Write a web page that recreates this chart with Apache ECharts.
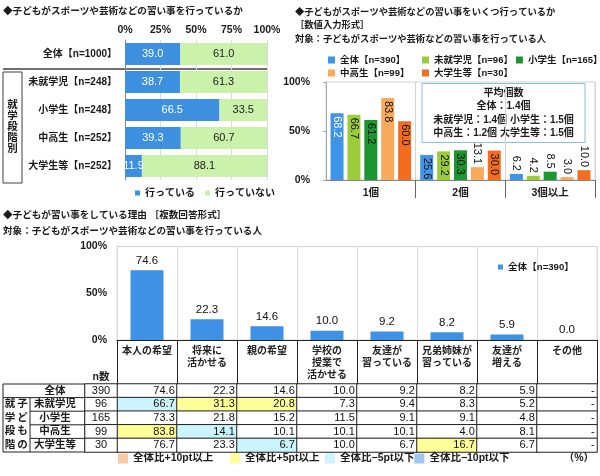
<!DOCTYPE html>
<html><head><meta charset="utf-8">
<script src="https://cdn.jsdelivr.net/npm/echarts@6/dist/echarts.min.js"></script>
<style>html,body{margin:0;padding:0;background:#fff}#c{width:600px;height:476px}</style>
</head><body><div id="c"></div>
<script>
// ---------- data ----------
// chart 1
const c1Categories = ['全体【n=1000】', '未就学児【n=248】', '小学生【n=248】', '中高生【n=252】', '大学生等【n=252】'];
const c1Names = ['行っている', '行っていない'];
const c1Doing = [39.0, 38.7, 66.5, 39.3, 11.9];
const c1NotDoing = [61.0, 61.3, 33.5, 60.7, 88.1];
// chart 2
const c2Categories = ['1個', '2個', '3個以上'];
const c2Names = ['全体【n=390】', '未就学児【n=96】', '小学生【n=165】', '中高生【n=99】', '大学生等【n=30】'];
const c2All = [68.2, 25.6, 6.2];
const c2Preschool = [66.7, 29.2, 4.2];
const c2Elementary = [61.2, 30.3, 8.5];
const c2MidHigh = [83.8, 13.1, 3.0];
const c2College = [60.0, 30.0, 10.0];
const c2AvgLines = ['平均個数', '全体：1.4個', '未就学児：1.4個 小学生：1.5個', '中高生：1.2個 大学生等：1.5個'];
// chart 3
const c3Reasons = ['本人の希望', '将来に\n活かせる', '親の希望', '学校の\n授業で\n活かせる', '友達が\n習っている', '兄弟姉妹が\n習っている', '友達が\n増える', 'その他'];
const c3Name = '全体【n=390】';
const c3All = [74.6, 22.3, 14.6, 10.0, 9.2, 8.2, 5.9, 0.0];
// table
const tRows = ['全体', '未就学児', '小学生', '中高生', '大学生等'];
const tNHeader = ['n数'];
const tN = [390, 96, 165, 99, 30];
const tAll = [74.6, 22.3, 14.6, 10.0, 9.2, 8.2, 5.9, 0];
const tPreschool = [66.7, 31.3, 20.8, 7.3, 9.4, 8.3, 5.2, 0];
const tElementary = [73.3, 21.8, 15.2, 11.5, 9.1, 9.1, 4.8, 0];
const tMidHigh = [83.8, 14.1, 10.1, 10.1, 10.1, 4.0, 8.1, 0];
const tCollege = [76.7, 23.3, 6.7, 10.0, 6.7, 16.7, 6.7, 0];
const diffLegend = ['全体比+10pt以上', '全体比+5pt以上', '全体比−5pt以下', '全体比−10pt以下'];

// ---------- styles ----------
const FONT = '"Liberation Sans", "Noto Sans CJK JP", sans-serif';
const TXT = '#1a1a1a';
const c1Colors = ['#3d8fe0', '#cbf2ab'];
const c2Colors = ['#3e95e8', '#9dcc3a', '#1c9630', '#f8a95c', '#f26d20'];
const c3Color = '#3e91e4';
const diffColors = ['#f8cba4', '#ffff99', '#ccf4fc', '#9dc6f2'];

const tMatrix = [tAll, tPreschool, tElementary, tMidHigh, tCollege];
function diffColor(r, c) {
  if (r === 0) return '#ffffff';
  const d = tMatrix[r][c] - tAll[c];
  if (d >= 10) return diffColors[0];
  if (d >= 5) return diffColors[1];
  if (d <= -10) return diffColors[3];
  if (d <= -5) return diffColors[2];
  return '#ffffff';
}
const tableData = [];
tMatrix.forEach((row, r) => row.forEach((v, c) => {
  tableData.push({ value: [c, r, v], itemStyle: { color: diffColor(r, c) } });
}));
const nData = tN.map((n, r) => [0, r, n]);

const c2Values = [c2All, c2Preschool, c2Elementary, c2MidHigh, c2College];
function c2Data(values, s) {
  return values.map((v, i) => ({
    value: v,
    label: v >= 20
      ? { position: 'insideTop', align: 'left', verticalAlign: 'middle', color: (s === 0 && i === 0) ? '#fff' : '#111' }
      : { position: 'top', align: 'right', verticalAlign: 'middle', color: '#111' }
  }));
}

const titleStyle = { fontFamily: FONT, fontWeight: 'bold', fontSize: 9.6, color: TXT, lineHeight: 12 };
function mkTitle(text, left, top, size) {
  return { text, left, top, padding: 0, textStyle: Object.assign({}, titleStyle, size ? { fontSize: size } : {}) };
}
function legText(size, lh, width) {
  const s = { fontFamily: FONT, fontSize: size, fontWeight: 'bold', color: TXT, lineHeight: lh };
  if (width) s.width = width;
  return s;
}

const rowTop = 384, rowH = 13.6;
const c2LegWidths = [79, 68, null, 79, null];
const diffLegWidths = [97, 80, 72, null];

const option = {
  animation: false,
  textStyle: { fontFamily: FONT },
  title: [
    mkTitle('◆子どもがスポーツや芸術などの習い事を行っているか', 3, 5),
    mkTitle('◆子どもがスポーツや芸術などの習い事をいくつ行っているか', 295, 6, 9.3),
    mkTitle('［数値入力形式］', 295, 19, 9.3),
    mkTitle('対象：子どもがスポーツや芸術などの習い事を行っている人', 295, 33, 9.3),
    mkTitle('◆子どもが習い事をしている理由 ［複数回答形式］', 3, 209),
    mkTitle('対象：子どもがスポーツや芸術などの習い事を行っている人', 3, 225)
  ],
  legend: [
    { data: c1Names, left: 135, top: 188, padding: 0, itemWidth: 5, itemHeight: 5, itemGap: 10, icon: 'rect',
      textStyle: legText(10, 10) },
    { data: c2Names.map((n, i) => ({ name: n, textStyle: legText(9.5, 10, c2LegWidths[i]) })),
      left: 328, top: 55, width: 285, padding: 0, itemWidth: 7, itemHeight: 7, itemGap: 3, icon: 'rect',
      textStyle: legText(9.5, 10) },
    { data: [c3Name], left: 498, top: 262, padding: 0, itemWidth: 5, itemHeight: 5, icon: 'rect',
      textStyle: legText(9.6, 10) },
    { data: diffLegend.map((n, i) => ({ name: n, textStyle: legText(10.5, 11, diffLegWidths[i]) })),
      left: 118, top: 453, padding: 0, itemWidth: 10, itemHeight: 10, itemGap: 0, icon: 'rect',
      textStyle: legText(10.5, 11) }
  ],
  grid: [
    { left: 125, top: 40, width: 142, height: 140 },
    { left: 326, top: 82, width: 269, height: 98, show: true, borderColor: '#d4d4d4', borderWidth: 1 },
    { left: 117, top: 246.5, width: 480, height: 93.5, show: true, borderColor: '#d4d4d4', borderWidth: 1 },
    { left: 117, top: rowTop, width: 480, height: rowH * 5 },
    { left: 85, top: rowTop, width: 32, height: rowH * 5 }
  ],
  xAxis: [
    { gridIndex: 0, type: 'value', min: 0, max: 100, interval: 25, position: 'top',
      axisLabel: { formatter: '{value}%', margin: 5, fontSize: 10.5, fontWeight: 'bold', color: TXT },
      axisLine: { show: false }, axisTick: { show: false },
      splitLine: { show: true, lineStyle: { color: '#dcdcdc' } } },
    { gridIndex: 1, type: 'category', data: c2Categories,
      axisLine: { show: true, lineStyle: { color: '#888' } },
      axisTick: { show: true, length: 18, interval: (i) => i > 0, lineStyle: { color: '#666' } },
      axisLabel: { margin: 8, fontSize: 10.5, fontWeight: 'bold', color: TXT },
      splitLine: { show: true, lineStyle: { color: '#d4d4d4' } } },
    { gridIndex: 2, type: 'category', data: c3Reasons,
      axisLine: { show: true, lineStyle: { color: '#222' } },
      axisTick: { show: true, length: 44, lineStyle: { color: '#222' } },
      axisLabel: { interval: 0, margin: 5, fontSize: 10, fontWeight: 'bold', lineHeight: 12, color: '#222' },
      splitLine: { show: true, lineStyle: { color: '#dcdcdc' } } },
    { gridIndex: 3, type: 'category', data: c3Reasons, show: false },
    { gridIndex: 4, type: 'category', data: tNHeader, position: 'top',
      axisLine: { show: false }, axisTick: { show: false },
      axisLabel: { margin: 2, fontSize: 10.5, fontWeight: 'bold', color: TXT } }
  ],
  yAxis: [
    { gridIndex: 0, type: 'category', data: c1Categories, inverse: true,
      axisLine: { show: true, lineStyle: { color: '#888' } }, axisTick: { show: false },
      axisLabel: { interval: 0, margin: 8, fontSize: 10, fontWeight: 'bold', color: TXT } },
    { gridIndex: 1, type: 'value', min: 0, max: 100, interval: 50,
      axisLabel: { formatter: '{value}%', margin: 16, fontSize: 10.5, fontWeight: 'bold', color: TXT },
      axisLine: { show: true, lineStyle: { color: '#aaa' } },
      axisTick: { show: true, length: 3, lineStyle: { color: '#aaa' } },
      splitLine: { show: false } },
    { gridIndex: 2, type: 'value', min: 0, max: 100, interval: 50,
      axisLabel: { formatter: '{value}%', margin: 10, fontSize: 10.5, fontWeight: 'bold', color: TXT },
      axisLine: { show: false }, axisTick: { show: false }, splitLine: { show: false } },
    { gridIndex: 3, type: 'category', data: tRows, inverse: true, show: false },
    { gridIndex: 4, type: 'category', data: tRows, inverse: true,
      axisLine: { show: false }, axisTick: { show: false },
      axisLabel: { interval: () => true, hideOverlap: false, margin: 30, align: 'center', fontSize: 10.5, lineHeight: 11, fontWeight: 'bold', color: TXT } }
  ],
  series: [
    { name: c1Names[0], type: 'bar', xAxisIndex: 0, yAxisIndex: 0, stack: 'c1', data: c1Doing, barWidth: 22,
      itemStyle: { color: c1Colors[0] },
      label: { show: true, position: 'inside', color: '#fff', fontSize: 11, formatter: p => p.value.toFixed(1) } },
    { name: c1Names[1], type: 'bar', xAxisIndex: 0, yAxisIndex: 0, stack: 'c1', data: c1NotDoing, barWidth: 22,
      itemStyle: { color: c1Colors[1] },
      label: { show: true, position: 'inside', color: '#222', fontSize: 11, formatter: p => p.value.toFixed(1) } },
    ...c2Names.map((n, s) => ({
      name: n, type: 'bar', xAxisIndex: 1, yAxisIndex: 1, data: c2Data(c2Values[s], s),
      barWidth: 13, barGap: '30%', itemStyle: { color: c2Colors[s] },
      label: { show: true, rotate: -90, distance: 3, fontSize: 11, formatter: p => p.value.toFixed(1) }
    })),
    { name: c3Name, type: 'bar', xAxisIndex: 2, yAxisIndex: 2, data: c3All, barWidth: 33,
      itemStyle: { color: c3Color },
      label: { show: true, position: 'top', distance: 4, color: '#111', fontSize: 11.5, formatter: p => p.value.toFixed(1) } },
    { name: 'table', type: 'heatmap', xAxisIndex: 3, yAxisIndex: 3, data: tableData,
      itemStyle: { borderColor: '#222', borderWidth: 1 },
      label: { show: true, position: 'insideRight', distance: 3, color: '#111', fontSize: 11,
        formatter: p => p.value[2] === 0 ? '-' : p.value[2].toFixed(1) },
      emphasis: { disabled: true } },
    { name: 'n', type: 'heatmap', xAxisIndex: 4, yAxisIndex: 4, data: nData,
      itemStyle: { color: '#fff', borderColor: '#222', borderWidth: 1 },
      label: { show: true, position: 'inside', color: '#111', fontSize: 11, formatter: p => String(p.value[2]) },
      emphasis: { disabled: true } },
    ...diffLegend.map((n, i) => ({ name: n, type: 'bar', xAxisIndex: 3, yAxisIndex: 3, data: [], itemStyle: { color: diffColors[i] } }))
  ],
  graphic: [
    { type: 'line', shape: { x1: 3, y1: 69, x2: 268, y2: 69 }, style: { stroke: '#404040', lineWidth: 1.5 } },
    { type: 'rect', shape: { x: 3, y: 72, width: 19, height: 111 }, style: { fill: 'none', stroke: '#404040', lineWidth: 1 } },
    { type: 'text', x: 12.5, y: 100, style: { text: '就\n学\n段\n階\n別', align: 'center', fontFamily: FONT, fontWeight: 'bold', fontSize: 10.5, lineHeight: 11, fill: TXT } },
    { type: 'rect', shape: { x: 422, y: 83.5, width: 163, height: 59 }, style: { fill: '#fff', stroke: '#8cbfe0', lineWidth: 1 } },
    { type: 'text', x: 503.5, y: 86, style: { text: c2AvgLines.join('\n'), align: 'center', fontFamily: FONT, fontWeight: 'bold', fontSize: 10, lineHeight: 13.5, fill: TXT } },
    // table row label borders
    { type: 'rect', shape: { x: 3, y: rowTop, width: 82, height: rowH * 5 }, style: { fill: 'none', stroke: '#222', lineWidth: 1 } },
    { type: 'line', shape: { x1: 3, y1: rowTop + rowH, x2: 85, y2: rowTop + rowH }, style: { stroke: '#222', lineWidth: 1 } },
    { type: 'line', shape: { x1: 30, y1: rowTop + rowH, x2: 30, y2: rowTop + rowH * 5 }, style: { stroke: '#222', lineWidth: 1 } },
    ...[2, 3, 4].map(k => ({ type: 'line', shape: { x1: 30, y1: rowTop + rowH * k, x2: 85, y2: rowTop + rowH * k }, style: { stroke: '#222', lineWidth: 1 } })),
    { type: 'text', x: 10, y: rowTop + rowH, style: { text: '就\n学\n段\n階', align: 'center', fontFamily: FONT, fontWeight: 'bold', fontSize: 10.5, lineHeight: rowH, fill: TXT } },
    { type: 'text', x: 22.5, y: rowTop + rowH, style: { text: '子\nど\nも\nの', align: 'center', fontFamily: FONT, fontWeight: 'bold', fontSize: 10.5, lineHeight: rowH, fill: TXT } },
    { type: 'text', x: 594, y: 453, style: { text: '（%）', align: 'right', fontFamily: FONT, fontWeight: 'bold', fontSize: 10.5, lineHeight: 11, fill: TXT } }
  ]
};

const chart = echarts.init(document.getElementById('c'));
chart.setOption(option);
</script>
</body></html>
